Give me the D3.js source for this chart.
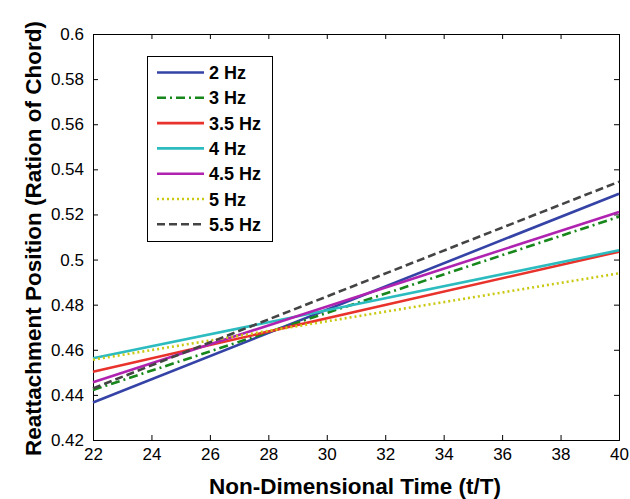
<!DOCTYPE html>
<html><head><meta charset="utf-8">
<script src="https://cdn.jsdelivr.net/npm/d3@7"></script>
<style>body{margin:0;background:#fff}svg{display:block}</style>
</head><body>
<script>
const xStart = 22, xEnd = 40;
const seriesNames = ["2 Hz","3 Hz","3.5 Hz","4 Hz","4.5 Hz","5 Hz","5.5 Hz"];
const startValues = [0.4366,0.4422,0.4503,0.4562,0.4456,0.4556,0.4429];
const endValues   = [0.5292,0.5190,0.5035,0.5041,0.5211,0.4939,0.5345];
const colors = ["#3543a6","#17861b","#e8322b","#2cbcbf","#b023b0","#c9c912","#444444"];
const dashes = ["none","9,4,2,4","none","none","none","2,3","8,4"];
const xTicks = [22,24,26,28,30,32,34,36,38,40];
const yTicks = [0.42,0.44,0.46,0.48,0.5,0.52,0.54,0.56,0.58,0.6];

const W=630,H=499, L=93, R=619, T=34, B=440;
const svg = d3.select("body").append("svg").attr("width",W).attr("height",H);
const x = d3.scaleLinear().domain([22,40]).range([L,R]);
const y = d3.scaleLinear().domain([0.42,0.6]).range([B,T]);

const font = "Liberation Sans, Arial, sans-serif";
// axes
const gx = svg.append("g").attr("transform",`translate(0,${B})`)
  .call(d3.axisBottom(x).tickValues(xTicks).tickSize(-5).tickPadding(8).tickFormat(d3.format("d")));
const gxt = svg.append("g").attr("transform",`translate(0,${T})`)
  .call(d3.axisTop(x).tickValues(xTicks).tickSize(-5).tickFormat(""));
const gy = svg.append("g").attr("transform",`translate(${L},0)`)
  .call(d3.axisLeft(y).tickValues(yTicks).tickSize(-5).tickPadding(9).tickFormat(d=>d3.format(".2~f")(d)));
const gyr = svg.append("g").attr("transform",`translate(${R},0)`)
  .call(d3.axisRight(y).tickValues(yTicks).tickSize(-5).tickFormat(""));
[gx,gxt,gy,gyr].forEach(g=>{
  g.selectAll("path").attr("stroke","#000").attr("stroke-width",1);
  g.selectAll("line").attr("stroke","#000").attr("stroke-width",1);
  g.selectAll("text").attr("font-family",font).attr("font-size",17).attr("fill","#000");
});

// lines
const line = d3.line().x(d=>x(d[0])).y(d=>y(d[1]));
seriesNames.forEach((n,i)=>{
  svg.append("path").datum([[xStart,startValues[i]],[xEnd,endValues[i]]])
    .attr("d",line).attr("fill","none").attr("stroke",colors[i])
    .attr("stroke-width",2.6).attr("stroke-dasharray",dashes[i]==="none"?null:dashes[i]);
});

// legend
const lg = svg.append("g");
lg.append("rect").attr("x",147.5).attr("y",56.5).attr("width",125).attr("height",185)
  .attr("fill","#fff").attr("stroke","#000").attr("stroke-width",1);
seriesNames.forEach((n,i)=>{
  const yy = 72.5 + i*25.3;
  lg.append("line").attr("x1",157).attr("x2",204).attr("y1",yy).attr("y2",yy)
    .attr("stroke",colors[i]).attr("stroke-width",2.6)
    .attr("stroke-dasharray",dashes[i]==="none"?null:dashes[i]);
  lg.append("text").attr("x",209).attr("y",yy+6.5).text(n)
    .attr("font-family",font).attr("font-size",18).attr("font-weight","bold");
});

// axis labels
svg.append("text").attr("x",355).attr("y",493.5).attr("text-anchor","middle")
  .attr("font-family",font).attr("font-size",22.5).attr("font-weight","bold").text("Non-Dimensional Time (t/T)");
svg.append("text").attr("transform",`translate(41,238.5) rotate(-90)`).attr("text-anchor","middle")
  .attr("font-family",font).attr("font-size",22.5).attr("font-weight","bold").text("Reattachment Position (Ration of Chord)");
</script>
</body></html>
